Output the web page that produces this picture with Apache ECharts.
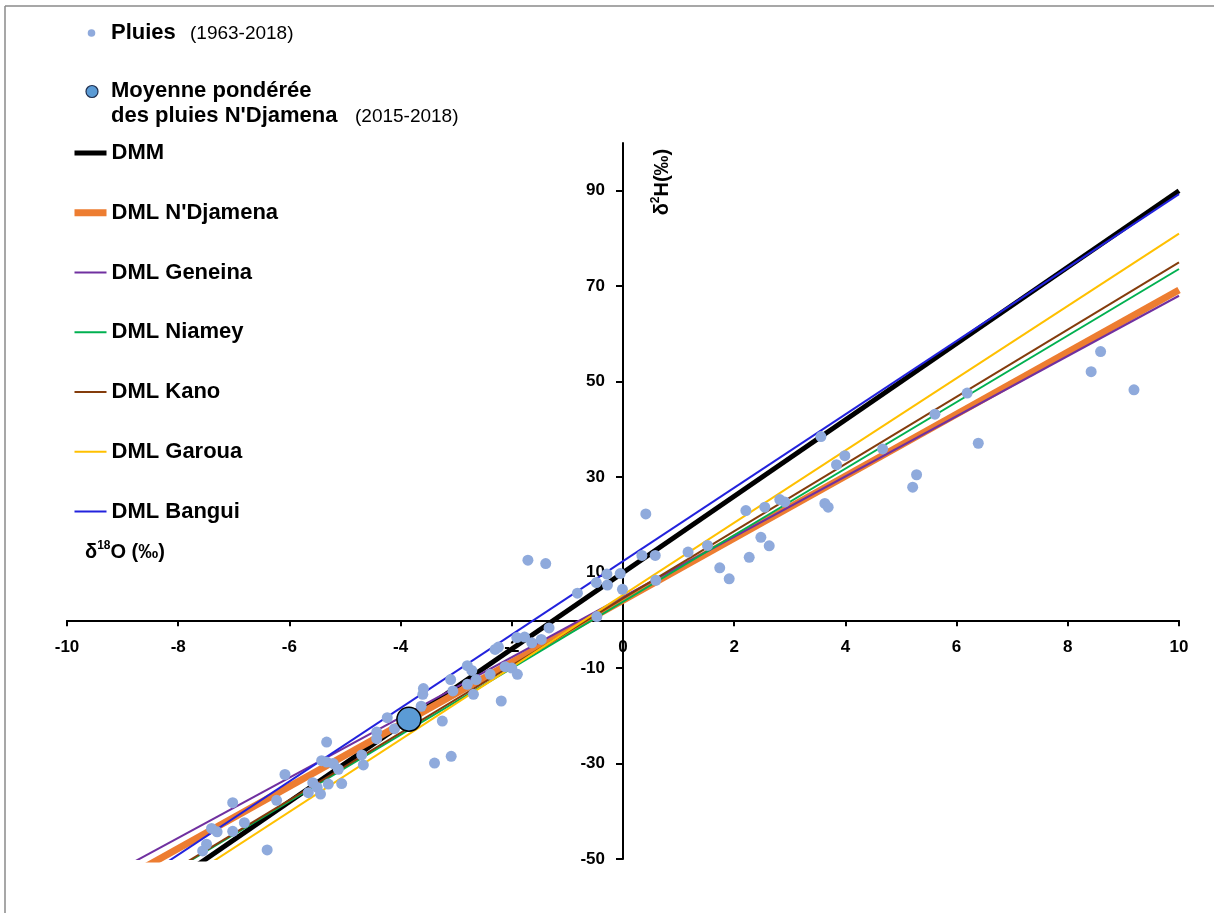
<!DOCTYPE html>
<html><head><meta charset="utf-8">
<script src="https://cdn.jsdelivr.net/npm/echarts@6/dist/echarts.min.js"></script>
<style>html,body{margin:0;padding:0;background:#fff}#c{width:1214px;height:913px}</style>
</head><body><div id="c"></div>
<script>
// ---- data ----
const yTickValues = [-50, -30, -10, 10, 30, 50, 70, 90];
const pluies = [
  [-7.56,-48.3],[-7.49,-46.9],[-7.40,-43.6],[-7.30,-44.3],[-7.02,-44.2],[-6.81,-42.4],[-7.02,-38.2],
  [-6.40,-48.1],[-6.23,-37.7],[-6.08,-32.3],[-5.66,-36.1],[-5.58,-34.0],[-5.50,-35.0],[-5.44,-36.4],
  [-5.30,-34.3],[-5.06,-34.2],[-5.42,-29.4],[-5.33,-29.7],[-5.21,-30.0],[-5.12,-31.2],[-5.33,-25.5],
  [-4.70,-28.2],[-4.67,-30.3],[-4.43,-23.4],[-4.43,-24.8],[-4.24,-20.4],[-4.11,-22.7],[-3.63,-18.0],
  [-3.60,-15.5],[-3.59,-14.3],[-3.25,-21.1],[-3.09,-28.5],[-3.39,-29.9],[-3.10,-12.4],[-3.06,-14.8],
  [-2.80,-9.5],[-2.72,-10.5],[-2.80,-13.4],[-2.69,-15.5],[-2.64,-12.4],[-2.39,-11.3],[-2.19,-16.9],
  [-2.24,-5.6],[-2.30,-6.1],[-2.12,-9.7],[-2.00,-10.0],[-1.90,-11.3],[-1.91,-3.6],[-1.77,-3.5],
  [-1.64,-4.7],[-1.47,-4.0],[-1.33,-1.6],[-1.71,12.6],[-1.39,11.9],[-0.82,5.7],[-0.48,7.9],
  [-0.28,7.4],[-0.29,9.7],[-0.05,9.8],[-0.01,6.5],[-0.47,0.8],[0.41,22.3],[0.34,13.6],[0.58,13.6],
  [0.59,8.4],[1.17,14.3],[1.52,15.7],[1.74,11.0],[1.91,8.7],[2.27,13.2],[2.21,23.0],[2.55,23.7],
  [2.48,17.4],[2.63,15.6],[2.82,25.3],[2.91,24.8],[3.63,24.5],[3.69,23.7],[3.56,38.5],[3.99,34.5],
  [3.84,32.6],[4.67,35.9],[5.61,43.2],[6.19,47.6],[6.39,37.1],[5.28,30.5],[5.21,27.9],[8.59,56.3],
  [8.42,52.1],[9.19,48.3]
];
const moyenne = [[-3.85, -20.7]];
const lineNames = ['DMM', "DML N'Djamena", 'DML Geneina', 'DML Niamey', 'DML Kano', 'DML Garoua', 'DML Bangui'];
const dmm       = [[-10, -70.0], [10, 90.0]];
const ndjamena  = [[-10, -60.8], [10, 69.2]];
const geneina   = [[-10, -58.2], [10, 68.0]];
const niamey    = [[-10, -65.8], [10, 73.6]];
const kano      = [[-10, -65.8], [10, 75.0]];
const garoua    = [[-10, -70.4], [10, 81.0]];
const bangui    = [[-10, -64.5], [10, 89.3]];
const lineData = [dmm, ndjamena, geneina, niamey, kano, garoua, bangui];
const lineColors = ['#000000', '#ED7D31', '#7030A0', '#00B050', '#843C0C', '#FFC000', '#2222DD'];
const lineWidths = [5, 7, 2, 2, 2, 2, 2];

// ---- chart ----
const FONT = "'Liberation Sans', Arial, sans-serif";
const W = 1214, H = 913;
const G = {left: 67, right: 35, top: 143, bottom: 54};
const X_MIN = -10, X_MAX = 10, Y_MIN = -50, Y_MAX = 100;
const gw = W - G.left - G.right, gh = H - G.top - G.bottom;
// offsets so the axes cross at zero (axis placement only)
const xAxisOffset = -(gh * (0 - Y_MIN) / (Y_MAX - Y_MIN));
const yAxisOffset = -(gw * (0 - X_MIN) / (X_MAX - X_MIN));

const chart = echarts.init(document.getElementById('c'), null, {renderer: 'canvas'});
const lineSeries = lineNames.map((n, i) => ({
  name: n, type: 'line', data: lineData[i], symbol: 'none', clip: true, silent: true,
  lineStyle: {color: lineColors[i], width: lineWidths[i]}, itemStyle: {color: lineColors[i]}, z: 2
}));
chart.setOption({
  animation: false,
  backgroundColor: '#fff',
  grid: {left: G.left, right: G.right, top: G.top, bottom: G.bottom, containLabel: false},
  xAxis: {
    type: 'value', min: X_MIN, max: X_MAX, interval: 2, position: 'bottom', offset: xAxisOffset,
    axisLine: {onZero: false, lineStyle: {color: '#000', width: 2}},
    axisTick: {show: true, inside: false, length: 6, lineStyle: {color: '#000', width: 2}},
    axisLabel: {color: '#000', fontFamily: FONT, fontWeight: 'bold', fontSize: 17, margin: 18},
    splitLine: {show: false}
  },
  yAxis: {
    type: 'value', min: Y_MIN, max: Y_MAX, interval: 20, position: 'left', offset: yAxisOffset,
    axisLine: {onZero: false, lineStyle: {color: '#000', width: 2}},
    axisTick: {show: true, inside: false, length: 7, customValues: yTickValues, lineStyle: {color: '#000', width: 2}},
    axisLabel: {color: '#000', fontFamily: FONT, fontWeight: 'bold', fontSize: 17, margin: 18, customValues: yTickValues},
    splitLine: {show: false}
  },
  legend: {
    orient: 'vertical', left: 66, top: 137, itemWidth: 32, itemHeight: 22, itemGap: 37.75,
    data: lineNames, selectedMode: false,
    lineStyle: {width: 'inherit'},
    itemStyle: {opacity: 0},
    textStyle: {color: '#000', fontFamily: FONT, fontWeight: 'bold', fontSize: 22, lineHeight: 22}
  },
  series: [
    ...lineSeries,
    {name: 'Pluies (1963-2018)', type: 'scatter', data: pluies, symbolSize: 11,
     itemStyle: {color: '#8FAADC', opacity: 1}, z: 5},
    {name: "Moyenne pondérée des pluies N'Djamena (2015-2018)", type: 'scatter', data: moyenne, symbolSize: 24,
     itemStyle: {color: '#5B9BD5', borderColor: '#000', borderWidth: 1.5, opacity: 1}, z: 6}
  ],
  graphic: [
    {type: 'line', shape: {x1: 5, y1: 6, x2: 1214, y2: 6}, style: {stroke: '#8a8a8a', lineWidth: 1.5}, silent: true},
    {type: 'line', shape: {x1: 5, y1: 6, x2: 5, y2: 913}, style: {stroke: '#8a8a8a', lineWidth: 1.5}, silent: true},
    {type: 'circle', shape: {cx: 91.5, cy: 33, r: 3.8}, style: {fill: '#8FAADC'}, silent: true},
    {type: 'text', x: 111, y: 33, style: {text: 'Pluies', fill: '#000', font: "bold 22px 'Liberation Sans', Arial, sans-serif", verticalAlign: 'middle'}, silent: true},
    {type: 'text', x: 190, y: 34, style: {text: '(1963-2018)', fill: '#000', font: "19px 'Liberation Sans', Arial, sans-serif", verticalAlign: 'middle'}, silent: true},
    {type: 'circle', shape: {cx: 92, cy: 91.5, r: 6}, style: {fill: '#5B9BD5', stroke: '#1f2f4f', lineWidth: 1.2}, silent: true},
    {type: 'text', x: 111, y: 91, style: {text: 'Moyenne pondérée', fill: '#000', font: "bold 22px 'Liberation Sans', Arial, sans-serif", verticalAlign: 'middle'}, silent: true},
    {type: 'text', x: 111, y: 116, style: {text: "des pluies N'Djamena", fill: '#000', font: "bold 22px 'Liberation Sans', Arial, sans-serif", verticalAlign: 'middle'}, silent: true},
    {type: 'text', x: 355, y: 117, style: {text: '(2015-2018)', fill: '#000', font: "19px 'Liberation Sans', Arial, sans-serif", verticalAlign: 'middle'}, silent: true},
    {type: 'text', x: 85, y: 552, silent: true, style: {
      text: '{a|δ}{s|18}{a|O (‰)}', verticalAlign: 'middle',
      rich: {
        a: {fontFamily: FONT, fontWeight: 'bold', fontSize: 20, lineHeight: 24, fill: '#000'},
        s: {fontFamily: FONT, fontWeight: 'bold', fontSize: 12, lineHeight: 14, verticalAlign: 'top', fill: '#000'}
      }}},
    {type: 'text', x: 662, y: 182, rotation: Math.PI / 2, silent: true, style: {
      text: '{a|δ}{s|2}{a|H(‰)}', align: 'center', verticalAlign: 'middle',
      rich: {
        a: {fontFamily: FONT, fontWeight: 'bold', fontSize: 20, lineHeight: 24, fill: '#000'},
        s: {fontFamily: FONT, fontWeight: 'bold', fontSize: 12, lineHeight: 14, verticalAlign: 'top', fill: '#000'}
      }}}
  ]
});
</script></body></html>
